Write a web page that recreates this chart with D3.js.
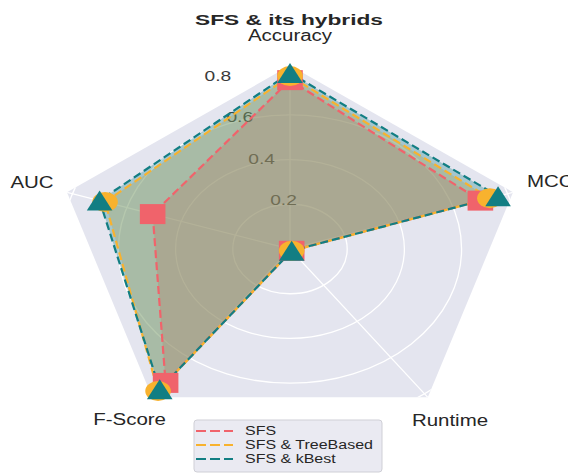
<!DOCTYPE html>
<html>
<head>
<meta charset="utf-8">
<script src="https://cdn.jsdelivr.net/npm/d3@7"></script>
<style>
  body { margin: 0; background: #fff; }
  text { font-family: "Liberation Sans", Arial, sans-serif; fill: #262626; }
</style>
</head>
<body>
<script>
'use strict';

// axes go counterclockwise from the top
const categories = ['Accuracy', 'AUC', 'F-Score', 'Runtime', 'MCC']
const seriesNames = ['SFS', 'SFS & TreeBased', 'SFS & kBest']
const sfsValues = [0.755, 0.505, 0.74, 0.01, 0.70]
const treeBasedValues = [0.773, 0.68, 0.785, 0.01, 0.735]
const kBestValues = [0.787, 0.70, 0.775, 0.01, 0.765]
const radialTicks = [0.2, 0.4, 0.6, 0.8]

const colors = ['#F0636B', '#F8B22E', '#127E83']
const markers = ['square', 'circle', 'triangle']

const m = { width: 568, height: 473, cx: 290, cy: 249, rx: 234.5, ry: 183.4 }
const stretch = 1.28 // picture is wider than tall

const svg = d3.select('body').append('svg')
  .attr('width', m.width)
  .attr('height', m.height)

// radius in frame units (frame vertex = 1)
const rScale = d3.scaleLinear().domain([0, 0.82]).range([0, 1])
const angleOf = (i) => (90 + i * 72) * Math.PI / 180
const px = (v, i) => m.cx + m.rx * rScale(v) * Math.cos(angleOf(i))
const py = (v, i) => m.cy - m.ry * rScale(v) * Math.sin(angleOf(i))

// pentagon frame
const frame = categories.map((c, i) => [m.cx + m.rx * Math.cos(angleOf(i)), m.cy - m.ry * Math.sin(angleOf(i))])
svg.append('clipPath').attr('id', 'frameClip')
  .append('polygon').attr('points', frame.map(p => p.join(',')).join(' '))
svg.append('polygon')
  .attr('points', frame.map(p => p.join(',')).join(' '))
  .style('fill', '#E4E5EF')

// grid rings and spokes
const grid = svg.append('g').attr('clip-path', 'url(#frameClip)')
grid.selectAll('ellipse').data(radialTicks).enter().append('ellipse')
  .attr('cx', m.cx).attr('cy', m.cy)
  .attr('rx', d => m.rx * rScale(d))
  .attr('ry', d => m.ry * rScale(d))
  .style('fill', 'none').style('stroke', '#fff').style('stroke-width', 1.3)
grid.selectAll('line').data(categories).enter().append('line')
  .attr('x1', m.cx).attr('y1', m.cy)
  .attr('x2', (d, i) => px(0.82, i)).attr('y2', (d, i) => py(0.82, i))
  .style('stroke', '#fff').style('stroke-width', 1.3)

// radial tick labels along 112.5 degrees
const labAng = 112.5 * Math.PI / 180
radialTicks.forEach(t => {
  const x = m.cx + m.rx * rScale(t) * Math.cos(labAng) + 15.4
  const y = m.cy - m.ry * rScale(t) * Math.sin(labAng) - 2.7
  svg.append('text')
    .attr('transform', 'translate(' + x + ',' + y + ') scale(' + stretch + ',1)')
    .attr('text-anchor', 'middle')
    .style('font-size', '15px')
    .style('fill', '#3a3a3a')
    .text(t.toFixed(1))
})

// data polygons
const allSeries = [sfsValues, treeBasedValues, kBestValues]
allSeries.forEach((vals, s) => {
  const pts = vals.map((v, i) => [px(v, i), py(v, i)])
  svg.append('polygon')
    .attr('points', pts.map(p => p.join(',')).join(' '))
    .style('fill', colors[s]).style('fill-opacity', 0.3)
})
allSeries.forEach((vals, s) => {
  const pts = vals.map((v, i) => [px(v, i), py(v, i)])
  svg.append('polygon')
    .attr('points', pts.map(p => p.join(',')).join(' '))
    .style('fill', 'none').style('stroke', colors[s])
    .style('stroke-width', 2.2).style('stroke-dasharray', '8,4')
})

// marker shapes (before stretch)
const shapePath = {
  square: 'M-10,-10H10V10H-10Z',
  circle: 'M-10,0A10,10 0 1,0 10,0A10,10 0 1,0 -10,0Z',
  triangle: 'M0,-10L10,10H-10Z'
}
categories.forEach((c, i) => {
  allSeries.forEach((vals, s) => {
    svg.append('path')
      .attr('d', shapePath[markers[s]])
      .attr('transform', 'translate(' + px(vals[i], i) + ',' + py(vals[i], i) + ') scale(' + stretch + ',1)')
      .style('fill', colors[s])
  })
})

// axis labels
const labelPos = [
  { x: 290, y: 41, anchor: 'middle' },
  { x: 32, y: 188, anchor: 'middle' },
  { x: 166, y: 425, anchor: 'end' },
  { x: 450, y: 426, anchor: 'middle' },
  { x: 527, y: 187, anchor: 'start' }
]
categories.forEach((c, i) => {
  svg.append('text')
    .attr('transform', 'translate(' + labelPos[i].x + ',' + labelPos[i].y + ') scale(' + stretch + ',1)')
    .attr('text-anchor', labelPos[i].anchor)
    .style('font-size', '16px')
    .text(c)
})

// title
svg.append('text')
  .attr('x', 195).attr('y', 25)
  .attr('textLength', 188).attr('lengthAdjust', 'spacingAndGlyphs')
  .style('font-size', '14.5px').style('font-weight', 'bold')
  .text('SFS & its hybrids')

// legend
const legend = svg.append('g')
legend.append('rect')
  .attr('x', 194).attr('y', 420).attr('width', 188).attr('height', 52).attr('rx', 3)
  .style('fill', '#EAEAF2').style('stroke', '#cfcfd6').style('stroke-width', 1)
seriesNames.forEach((name, s) => {
  const y = 435 + s * 14
  legend.append('line')
    .attr('x1', 196).attr('x2', 233).attr('y1', y - 4).attr('y2', y - 4)
    .style('stroke', colors[s]).style('stroke-width', 2.2).style('stroke-dasharray', '10,4')
  legend.append('text')
    .attr('transform', 'translate(245,' + y + ') scale(' + stretch + ',1)')
    .style('font-size', '12.5px')
    .text(name)
})
</script>
</body>
</html>
